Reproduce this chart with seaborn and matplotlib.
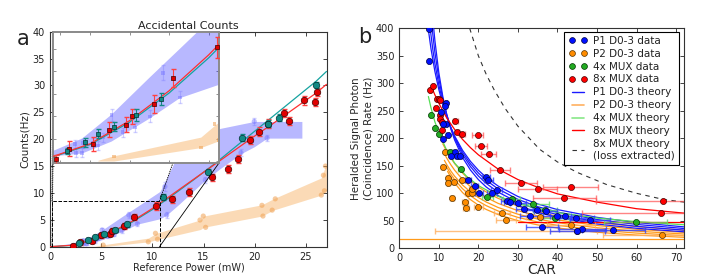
import numpy as np
import pandas as pd
import matplotlib
matplotlib.use("Agg")
import matplotlib.pyplot as plt
import seaborn as sns
from matplotlib.patches import Rectangle, ConnectionPatch
from matplotlib.lines import Line2D

# ------------------------- Panel a data -------------------------
red_x = [2.28, 2.95, 4.13, 4.97, 5.82, 6.10, 7.23, 8.18, 10.4, 11.9, 13.6, 15.8, 17.4, 18.4,
         19.5, 20.4, 21.3, 22.9, 23.3, 24.8, 25.9, 26.1]
red_y = [0.13, 0.82, 1.14, 2.09, 2.43, 2.99, 3.81, 5.55, 7.6, 8.8, 10.2, 12.9, 14.5, 16.3,
         19.85, 21.4, 22.9, 24.9, 23.4, 27.2, 26.9, 28.8]
red_yerr = [0.3, 0.5, 0.5, 0.5, 0.5, 0.5, 0.6, 0.6, 0.7, 0.7, 0.7, 0.7, 0.7, 0.7,
            0.8, 0.8, 0.8, 0.8, 0.8, 0.8, 0.8, 0.8]
teal_x = [2.85, 3.74, 4.39, 5.23, 6.32, 7.57, 11.07, 15.46, 18.8, 21.3, 22.4, 26.0]
teal_y = [0.65, 1.27, 1.81, 2.3, 3.1, 4.15, 9.25, 13.95, 20.3, 22.9, 24.0, 30.1]
teal_yerr = [0.2, 0.3, 0.3, 0.3, 0.4, 0.4, 0.5, 0.5, 0.6, 0.6, 0.6, 0.6]

blue_x = [3.24, 3.29, 3.58, 3.66, 4.16, 4.42, 4.67, 5.09, 5.65, 6.27, 7.03, 7.70, 8.54,
          11.23, 11.4, 15.17, 18.65, 19.95, 21.2]
blue_y = [1.14, 0.54, 0.54, 1.2, 1.25, 1.05, 1.58, 3.1, 1.94, 2.25, 2.99, 5.89, 4.26,
          11.2, 5.9, 12.4, 17.5, 23.3, 20.2]
blue_yerr = [0.3, 0.3, 0.3, 0.3, 0.3, 0.3, 0.3, 0.4, 0.3, 0.3, 0.4, 0.5, 0.4,
             0.8, 0.5, 0.6, 0.6, 0.7, 0.6]
band_x = [0.2, 2.0, 3.6, 5.09, 7.03, 8.54, 10.75, 11.4, 12.6, 15.17, 16.6, 18.65, 19.95, 21.2, 24.6]
band_up = [0.1, 0.6, 1.5, 3.1, 5.6, 7.5, 10.3, 12.8, 17.5, 20.3, 22.0, 22.8, 23.3, 23.3, 23.3]
band_lo = [0.0, 0.3, 0.5, 1.3, 2.85, 4.2, 5.2, 5.9, 7.9, 12.4, 14.5, 17.3, 18.6, 20.2, 20.2]

orange_x = [5.2, 9.6, 10.3, 10.5, 14.65, 14.97, 15.2, 20.7, 20.8, 22.0, 21.7, 26.5, 26.8, 26.7, 26.9]
orange_y = [0.3, 0.9, 2.5, 1.4, 4.96, 5.7, 3.6, 7.7, 5.7, 8.9, 6.8, 9.6, 10.4, 13.3, 15.0]
oband_x = [4.4, 5.2, 9.6, 10.4, 14.7, 15.0, 20.7, 21.8, 26.5, 26.9, 27.3]
oband_up = [0.05, 0.35, 1.6, 2.5, 5.0, 5.7, 7.8, 8.9, 12.8, 15.0, 15.2]
oband_lo = [0.0, 0.0, 0.9, 1.3, 3.2, 3.6, 5.7, 6.8, 9.6, 10.4, 10.5]

curve_x = [0, 2, 4, 6, 8, 10, 12, 14, 16, 18, 20, 22, 24, 26, 27.0]
red_curve = [0, 0.25, 1.15, 2.7, 4.7, 7.1, 9.8, 12.5, 15.2, 17.9, 20.6, 23.2, 25.9, 28.6, 30.2]
teal_curve = [0, 0.22, 1.1, 2.6, 4.55, 6.9, 9.6, 12.4, 15.3, 18.4, 21.5, 24.6, 27.7, 30.8, 32.6]

a_xticks = [0, 5, 10, 15, 20, 25]
a_yticks = [0, 5, 10, 15, 20, 25, 30, 35, 40]

# ------------------------- Panel b data -------------------------
p1_x = [7.6, 7.5, 11.8, 11.6, 10.5, 11.7, 11.0, 12.2, 11.1, 14.2, 14.7, 15.4, 13.1, 17.3, 19.1,
        20.2, 21.9, 22.5, 23.5, 24.6, 27.3, 28.1, 30.1, 31.6, 33.0, 34.7, 37.0, 36.1, 39.8,
        42.0, 44.8, 46.3, 48.2, 45.0, 54.1]
p1_y = [398, 341, 265, 258, 247, 226, 226, 206, 199, 175, 168, 168, 167, 124, 114,
        100, 130, 124, 101, 106, 86, 85, 83, 71, 58, 70, 68, 38, 58,
        58, 55, 35, 52, 31, 33]
p1_xerr = [0.2, 0.2, 0.3, 0.3, 0.3, 0.3, 0.3, 0.4, 0.3, 0.5, 0.5, 0.5, 0.4, 0.8, 0.9,
           1.0, 1.0, 1.1, 1.2, 1.3, 1.6, 1.7, 2.0, 2.2, 2.5, 2.7, 3.0, 4.0, 3.5,
           4.0, 4.5, 6.0, 5.0, 7.0, 8.0]

p2_x = [11.6, 11.0, 12.2, 12.4, 13.3, 13.8, 15.9, 16.6, 16.8, 17.4, 18.3, 18.5, 20.0, 26.0,
        26.9, 35.5, 43.4, 66.5, 45.0]
p2_y = [175, 148, 127, 119, 91, 121, 124, 84, 73, 101, 100, 107, 75, 65,
        51, 57, 42, 25, 32]
p2_xerr_lo = [0.4, 0.4, 0.4, 0.4, 0.5, 0.5, 0.6, 0.7, 0.8, 0.8, 0.9, 0.9, 1.1, 2.0,
              2.5, 3.5, 6.0, 15.0, 36.0]
p2_xerr_hi = [0.4, 0.4, 0.4, 0.4, 0.5, 0.5, 0.6, 0.7, 0.8, 0.8, 0.9, 0.9, 1.1, 2.0,
              2.5, 3.5, 6.0, 15.0, 5.0]

mux4_x = [8.0, 9.1, 10.1, 12.9, 15.5, 22.3, 28.4, 33.9, 36.8, 39.3, 59.8]
mux4_y = [243, 219, 207, 175, 145, 93, 90, 81, 70, 55, 47]
mux4_xerr = [0.2, 0.3, 0.3, 0.5, 0.6, 1.5, 2.2, 4.0, 3.0, 3.5, 8.0]

mux8_x = [7.8, 8.5, 9.2, 9.5, 10.0, 10.3, 10.4, 10.4, 10.7, 10.8, 14.2, 14.6, 15.9, 19.8,
          20.7, 22.6, 25.5, 30.7, 35.0, 41.7, 43.3, 66.8, 66.3]
mux8_y = [288, 296, 256, 272, 272, 270, 242, 236, 230, 215, 231, 211, 207, 206,
          186, 172, 142, 119, 107, 91, 112, 86, 65]
mux8_xerr = [0.2, 0.2, 0.3, 0.3, 0.3, 0.3, 0.3, 0.3, 0.3, 0.3, 0.6, 0.6, 0.7, 1.4,
             1.5, 1.9, 2.5, 4.0, 5.0, 8.0, 7.0, 17.0, 20.0]

# theory curves
t_p1 = [
    ([7.3, 8, 9, 10, 11, 12, 13, 14, 16, 18, 20, 22, 25, 30, 35, 40, 50, 60, 72],
     [400, 363.6, 321.7, 288.5, 261.6, 239.2, 220.3, 204.2, 178.2, 158.1, 142.0, 128.9, 113.2,
      94.2, 80.6, 70.4, 56.3, 46.8, 39.0]),
    ([7.8, 8.5, 9, 10, 11, 12, 13, 14, 16, 18, 20, 22, 25, 30, 35, 40, 50, 60, 72],
     [400, 360.3, 336.4, 297.1, 266.0, 240.8, 219.9, 202.4, 174.6, 153.5, 136.9, 123.6, 107.9,
      89.0, 75.7, 65.9, 52.3, 43.4, 36.0]),
    ([8.3, 9, 10, 11, 12, 13, 14, 16, 18, 20, 22, 25, 30, 35, 40, 50, 60, 72],
     [400, 356.4, 308.4, 271.8, 243.0, 219.7, 200.5, 170.6, 148.5, 131.5, 117.9, 102.1, 83.5,
      70.6, 61.2, 48.3, 39.9, 33.0]),
    ([8.7, 9, 10, 11, 12, 13, 14, 16, 18, 20, 22, 25, 30, 35, 40, 50, 60, 72],
     [400, 378, 319.2, 276.2, 243.5, 217.7, 196.8, 165.1, 142.3, 124.9, 111.4, 95.8, 77.7,
      65.3, 56.4, 44.2, 36.4, 30.0]),
]
t_p2 = [
    ([11.0, 12, 13, 14, 16, 18, 20, 22, 25, 30, 35, 40, 50, 60, 72],
     [190, 176.3, 164.4, 154.0, 136.7, 122.9, 111.6, 102.3, 90.8, 76.6, 66.2, 58.2, 47.0, 39.4, 33.0]),
    ([11.2, 12, 13, 14, 16, 18, 20, 22, 25, 30, 35, 40, 50, 60, 72],
     [175, 164.1, 152.3, 142.0, 125.2, 111.9, 101.2, 92.4, 81.7, 68.4, 58.9, 51.7, 41.5, 34.7, 29.0]),
    ([11.4, 12, 13, 14, 16, 18, 20, 22, 25, 30, 35, 40, 50, 60, 72],
     [160, 152.2, 140.8, 131.0, 115.0, 102.5, 92.4, 84.1, 74.2, 62.0, 53.2, 46.6, 37.4, 31.2, 26.0]),
    ([11.8, 12, 13, 14, 16, 18, 20, 22, 25, 30, 35, 40, 50, 60, 72],
     [150, 147.3, 135.1, 124.8, 108.3, 95.6, 85.6, 77.5, 67.8, 56.2, 47.9, 41.8, 33.3, 27.7, 23.0]),
    ([12.2, 13, 14, 16, 18, 20, 22, 25, 30, 35, 40, 50, 60, 72],
     [140, 129.6, 118.6, 101.3, 88.5, 78.5, 70.6, 61.3, 50.2, 42.6, 36.9, 29.2, 24.1, 20.0]),
    ([0, 72], [17, 17]),
]
t_mux4 = ([7.36, 8, 9, 10, 12, 14, 17, 20, 25, 30, 40, 50, 60, 72],
          [276, 256, 230, 210, 178, 155, 131, 114, 94.5, 81, 65, 55, 48.4, 42.8])
t_mux8 = [
    ([8.3, 9, 10, 11, 12, 14, 16, 18, 20, 25, 30, 35, 40, 50, 60, 72],
     [291, 279, 264, 250, 237, 216, 198, 183, 170, 144, 125, 111, 99, 84, 72, 64]),
    ([30, 72], [48, 48]),
]
t_loss = ([17.8, 20, 22, 24, 26.7, 30, 35.5, 40, 45, 52.4, 60, 66.7, 72],
          [400, 350, 316, 288, 255, 222, 180, 157, 138, 116, 100, 89, 84])

b_xticks = [0, 10, 20, 30, 40, 50, 60, 70]
b_yticks = [0, 50, 100, 150, 200, 250, 300, 350, 400]

# ------------------------- style -------------------------
sns.set_style("ticks")
plt.rcParams.update({
    "font.family": ["DejaVu Sans"],
    "xtick.direction": "in", "ytick.direction": "in",
    "xtick.top": True, "ytick.right": True,
    "xtick.major.size": 3, "ytick.major.size": 3,
    "xtick.major.width": 0.6, "ytick.major.width": 0.6,
    "axes.linewidth": 0.8, "axes.edgecolor": "#333333",
    "xtick.labelsize": 7, "ytick.labelsize": 7,
    "text.color": "#222222", "xtick.color": "#222222", "ytick.color": "#222222",
})

fig = plt.figure(figsize=(7.21, 2.79), dpi=100)
ax = fig.add_axes([0.0693, 0.1158, 0.3842, 0.7706])
axb = fig.add_axes([0.5538, 0.110, 0.3949, 0.7885])
axin = fig.add_axes([0.0735, 0.4158, 0.2302, 0.4695])

RED = "#e00000"
TEAL = "#128a84"


def draw_a(a, small):
    s_main = 8 if small else 22
    s_faint = 7 if small else 14
    mk = "s" if small else "o"
    a.fill_between(band_x, band_lo, band_up, color="blue", alpha=0.28, lw=0, zorder=1)
    a.fill_between(oband_x, oband_lo, oband_up, color="#f5a040", alpha=0.38, lw=0, zorder=1)
    a.errorbar(blue_x, blue_y, yerr=blue_yerr, fmt="none", ecolor="#7a7aff", alpha=0.35,
               elinewidth=0.8, capsize=1.5, zorder=2)
    sns.scatterplot(x=blue_x, y=blue_y, ax=a, color="#6f6fff", alpha=0.45, s=s_faint,
                    marker=mk, edgecolor="none", zorder=2, legend=False)
    sns.scatterplot(x=orange_x, y=orange_y, ax=a, color="#f0a050", alpha=0.55, s=s_faint,
                    marker=mk, edgecolor="none", zorder=2, legend=False)
    sns.lineplot(x=curve_x, y=teal_curve, ax=a, color="#15a3a0", lw=0.9,
                 estimator=None, sort=False, zorder=3, legend=False)
    sns.lineplot(x=curve_x, y=red_curve, ax=a, color="#ff3030", lw=0.9,
                 estimator=None, sort=False, zorder=3, legend=False)
    a.errorbar(red_x, red_y, yerr=red_yerr, fmt="none", ecolor="#ff4040", elinewidth=0.8,
               capsize=1.8, zorder=4)
    a.errorbar(teal_x, teal_y, yerr=teal_yerr, fmt="none", ecolor=TEAL, elinewidth=0.8,
               capsize=1.8, zorder=4)
    sns.scatterplot(x=red_x, y=red_y, ax=a, color=RED, s=s_main, marker=mk,
                    edgecolor="#400000", linewidth=0.5, zorder=5, legend=False)
    sns.scatterplot(x=teal_x, y=teal_y, ax=a, color=TEAL, s=s_main, marker=mk,
                    edgecolor="#003030", linewidth=0.5, zorder=5, legend=False)


draw_a(ax, False)
ax.set_xlim(0, 27.05)
ax.set_ylim(0, 40)
ax.set_xticks(a_xticks)
ax.set_yticks(a_yticks)
ax.set_xlabel("Reference Power (mW)", fontsize=7, labelpad=1)
ax.set_ylabel("Counts(Hz)", fontsize=7.5, labelpad=2)
ax.set_title("Accidental Counts", fontsize=8, pad=2)

# zoom rectangle and connectors
ax.add_patch(Rectangle((0.2, 0), 10.5, 8.5, fill=False, ls="--", lw=0.7,
                       edgecolor="k", zorder=6))
for (xa, ya, xb, yb, ls) in [(0.2, 0, 0, 0, ":"), (0.2, 8.5, 0, 1, ":"),
                             (10.7, 8.5, 1, 1, ":"), (10.7, 0, 1, 0, "-")]:
    cp = ConnectionPatch(xyA=(xa, ya), coordsA=ax.transData, xyB=(xb, yb),
                         coordsB=axin.transAxes, ls=ls, lw=0.6, color="k", zorder=6)
    ax.add_artist(cp)

draw_a(axin, True)
axin.set_xlim(2.13, 10.52)
axin.set_ylim(-0.13, 8.63)
axin.set_xticks([2.5, 4, 6, 8, 10])
axin.set_yticks([0, 1.5, 3, 4.5, 6, 7.5])
axin.tick_params(labelbottom=False, labelleft=False, length=2, width=0.5, colors="#666666")
for sp in axin.spines.values():
    sp.set_color("#8a8a8a")
    sp.set_linewidth(1.4)
axin.set_xlabel("")
axin.set_ylabel("")
axin.set_facecolor("white")

# ------------------------- Panel b -------------------------
BLUE = "#0010ff"
ORANGE = "#ff8c00"
GREEN = "#22aa22"
RED2 = "#ff0000"

for xs, ys in t_p1:
    sns.lineplot(x=xs, y=ys, ax=axb, color="#1a1aff", lw=0.9, estimator=None, sort=False,
                 legend=False, zorder=3)
for xs, ys in t_p2:
    sns.lineplot(x=xs, y=ys, ax=axb, color="#ff9a1a", lw=0.9, estimator=None, sort=False,
                 legend=False, zorder=2)
sns.lineplot(x=t_mux4[0], y=t_mux4[1], ax=axb, color="#55dd55", lw=0.9, estimator=None,
             sort=False, legend=False, zorder=3)
for xs, ys in t_mux8:
    sns.lineplot(x=xs, y=ys, ax=axb, color=RED2, lw=0.9, estimator=None, sort=False,
                 legend=False, zorder=3)
sns.lineplot(x=t_loss[0], y=t_loss[1], ax=axb, color="#333333", lw=0.8, estimator=None,
             sort=False, legend=False, zorder=3)
axb.lines[-1].set_dashes([4, 4])

axb.errorbar(p2_x, p2_y, xerr=[p2_xerr_lo, p2_xerr_hi], fmt="none", ecolor="#ffb060",
             alpha=0.8, elinewidth=1.0, capsize=2, zorder=4)
axb.errorbar(mux4_x, mux4_y, xerr=mux4_xerr, fmt="none", ecolor="#66dd66", alpha=0.8,
             elinewidth=1.0, capsize=2, zorder=4)
axb.errorbar(mux8_x, mux8_y, xerr=mux8_xerr, fmt="none", ecolor="#ff5050", alpha=0.7,
             elinewidth=1.0, capsize=2, zorder=4)
axb.errorbar(p1_x, p1_y, xerr=p1_xerr, fmt="none", ecolor="#3040ff", alpha=0.8,
             elinewidth=1.0, capsize=2, zorder=4)

sns.scatterplot(x=p2_x, y=p2_y, ax=axb, color=ORANGE, s=19, edgecolor="#553300",
                linewidth=0.5, zorder=5, legend=False)
sns.scatterplot(x=mux4_x, y=mux4_y, ax=axb, color=GREEN, s=19, edgecolor="#003300",
                linewidth=0.5, zorder=5, legend=False)
sns.scatterplot(x=mux8_x, y=mux8_y, ax=axb, color=RED2, s=19, edgecolor="#440000",
                linewidth=0.5, zorder=5, legend=False)
sns.scatterplot(x=p1_x, y=p1_y, ax=axb, color=BLUE, s=19, edgecolor="#000044",
                linewidth=0.5, zorder=6, legend=False)

axb.set_xlim(0, 72)
axb.set_ylim(0, 400)
axb.set_xticks(b_xticks)
axb.set_yticks(b_yticks)
axb.set_xlabel("CAR", fontsize=10, labelpad=0)
axb.set_ylabel("Heralded Signal Photon\n(Coincidence) Rate (Hz)", fontsize=7.5,
               labelpad=2, linespacing=1.2)

handles = [
    Line2D([0], [0], marker="o", ls="", color=BLUE, mec="#000044", ms=4.2, mew=0.5),
    Line2D([0], [0], marker="o", ls="", color=ORANGE, mec="#553300", ms=4.2, mew=0.5),
    Line2D([0], [0], marker="o", ls="", color=GREEN, mec="#003300", ms=4.2, mew=0.5),
    Line2D([0], [0], marker="o", ls="", color=RED2, mec="#440000", ms=4.2, mew=0.5),
    Line2D([0], [0], color="#1a1aff", lw=1.0),
    Line2D([0], [0], color="#ffb060", lw=1.2),
    Line2D([0], [0], color="#88e888", lw=1.2),
    Line2D([0], [0], color=RED2, lw=1.0),
    Line2D([0], [0], color="#333333", lw=0.8, dashes=[4, 4]),
]
labels = ["P1 D0-3 data", "P2 D0-3 data", "4x MUX data", "8x MUX data",
          "P1 D0-3 theory", "P2 D0-3 theory", "4x MUX theory", "8x MUX theory",
          "8x MUX theory\n(loss extracted)"]
leg = axb.legend(handles, labels, loc="upper right", bbox_to_anchor=(0.988, 0.995),
                 fontsize=7.5, numpoints=2, frameon=True, fancybox=False,
                 edgecolor="black", framealpha=1, labelspacing=0.28, handlelength=1.8,
                 handletextpad=0.5, borderpad=0.4, borderaxespad=0.2)
leg.get_frame().set_linewidth(0.8)

fig.text(0.0315, 0.862, "a", fontsize=15, ha="center", va="center")
fig.text(0.506, 0.866, "b", fontsize=15, ha="center", va="center")

fig.savefig("out.png", dpi=100)
